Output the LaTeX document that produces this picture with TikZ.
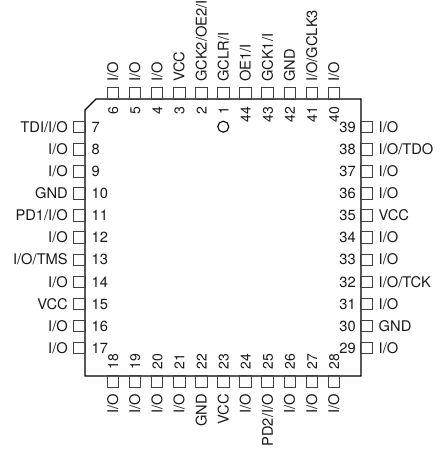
\documentclass[tikz,border=0pt]{standalone}
\usepackage{fontspec}
\setmainfont{TeX Gyre Heros}
\tikzset{
  pinbox/.style={draw=black!75,line width=0.7pt,minimum size=11.5pt,inner sep=0pt,rectangle},
  lbl/.style={inner sep=0pt,font=\fontsize{14.7}{16}\selectfont,text=black!90},
  rotnum/.style={inner sep=0pt,font=\fontsize{14}{16}\selectfont,text=black!90},
  bodyline/.style={draw=black,line width=1.1pt,line join=miter}
}
\begin{document}
\begin{tikzpicture}[x=1pt,y=-1pt]
\useasboundingbox (0,0) rectangle (440,451);
\clip (0,0) rectangle (440,451);
% body
\draw[bodyline] (96,99) -- (361,99) -- (361,376) -- (85,376) -- (85,110) -- cycle;
% top pins
\foreach \n/\i/\t in {6/0/I\slash O,5/1/I\slash O,4/2/I\slash O,3/3/VCC,2/4/GCK2\slash OE2\slash I,1/5/GCLR\slash I,44/6/OE1\slash I,43/7/GCK1\slash I,42/8/GND,41/9/I\slash O\slash GCLK3,40/10/I\slash O}{
  \pgfmathsetmacro{\px}{112.8+22.1*\i}
  \node[pinbox] (p\n) at (\px,93.5) {};
  \node[lbl,rotate=90,anchor=base west] (t\n) at (\px+5.3,82) {\t};
  \node[rotnum,rotate=90,anchor=base east] (n\n) at (\px+5.3,106.5) {\n};
}
% bottom pins
\foreach \n/\i/\t in {18/0/I\slash O,19/1/I\slash O,20/2/I\slash O,21/3/I\slash O,22/4/GND,23/5/VCC,24/6/I\slash O,25/7/PD2\slash I\slash O,26/8/I\slash O,27/9/I\slash O,28/10/I\slash O}{
  \pgfmathsetmacro{\px}{112.8+22.1*\i}
  \node[pinbox] (p\n) at (\px,381.5) {};
  \node[lbl,rotate=90,anchor=base east] (t\n) at (\px+5.3,394) {\t};
  \node[rotnum,rotate=90,anchor=base west] (n\n) at (\px+5.3,369.5) {\n};
}
% left pins
\foreach \n/\i/\t in {7/0/TDI\slash I\slash O,8/1/I\slash O,9/2/I\slash O,10/3/GND,11/4/PD1\slash I\slash O,12/5/I\slash O,13/6/I\slash O\slash TMS,14/7/I\slash O,15/8/VCC,16/9/I\slash O,17/10/I\slash O}{
  \pgfmathsetmacro{\py}{127+22.1*\i}
  \node[pinbox] (p\n) at (79.5,\py) {};
  \node[lbl,anchor=base east] (t\n) at (68,\py+5.3) {\t};
  \node[lbl,anchor=base west] (n\n) at (91.5,\py+5.3) {\n};
}
% right pins
\foreach \n/\i/\t in {39/0/I\slash O,38/1/I\slash O\slash TDO,37/2/I\slash O,36/3/I\slash O,35/4/VCC,34/5/I\slash O,33/6/I\slash O,32/7/I\slash O\slash TCK,31/8/I\slash O,30/9/GND,29/10/I\slash O}{
  \pgfmathsetmacro{\py}{127+22.1*\i}
  \node[pinbox] (p\n) at (366.5,\py) {};
  \node[lbl,anchor=base west] (t\n) at (378.5,\py+5.3) {\t};
  \node[lbl,anchor=base east] (n\n) at (356,\py+5.3) {\n};
}
% pin 1 dot
\node[draw=black,line width=1.1pt,circle,minimum size=11pt,inner sep=0pt] (dot) at (223.3,126.7) {};
\end{tikzpicture}
\end{document}
